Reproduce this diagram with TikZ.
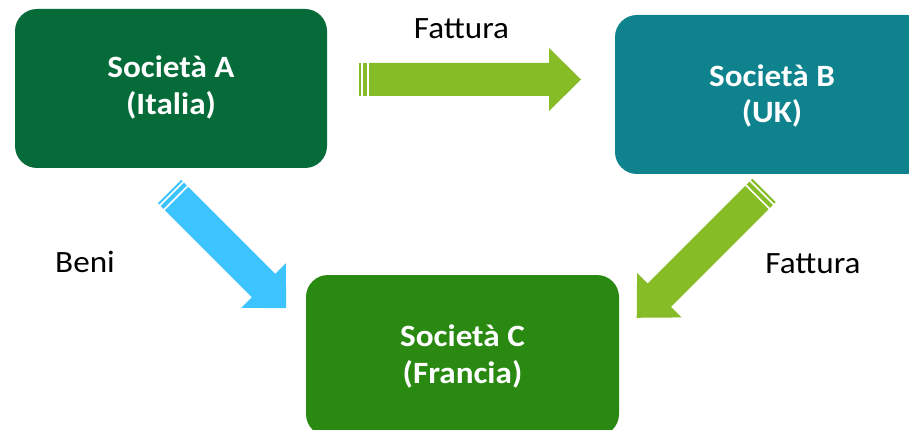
\documentclass[tikz,border=0pt]{standalone}
\usepackage{fontspec}
\setmainfont{Carlito}[FakeStretch=1.07]
\definecolor{boxA}{RGB}{5,107,57}
\definecolor{boxB}{RGB}{14,130,141}
\definecolor{boxC}{RGB}{41,137,17}
\definecolor{arrG}{RGB}{134,188,37}
\definecolor{arrB}{RGB}{61,196,255}
\tikzset{
  company/.style={rounded corners=22pt, inner sep=0pt, outer sep=0pt},
  ctext/.style={anchor=base, text=white, font=\fontsize{31}{37}\selectfont\bfseries, inner sep=0pt},
  ltext/.style={anchor=base, text=black, font=\fontsize{31}{37}\selectfont, inner sep=0pt},
}
% striped block arrow: #1 = length, tail centre at local origin, pointing along +x
\newcommand{\stripedarrow}[1]{%
  \fill (0,-16.5) rectangle (2,16.5);
  \fill (4,-16.5) rectangle (8,16.5);
  \fill (10,-16.5) -- ({#1-32},-16.5) -- ({#1-32},-31.5) -- (#1,0) --
        ({#1-32},31.5) -- ({#1-32},16.5) -- (10,16.5) -- cycle;}
\begin{document}
\begin{tikzpicture}[x=1pt,y=-1pt]
\useasboundingbox (0,0) rectangle (909,430);
\clip (0,0) rectangle (909,430);
% boxes
\fill[boxA, company] (15,9) rectangle (327,168);
\fill[boxB, company] (615,15) rectangle (929,174);
\fill[boxC, company] (306,275) rectangle (619,436);
\coordinate (A) at (171,88.5);
\coordinate (B) at (772,94.5);
\coordinate (C) at (462.5,355);
\node[ctext] (A1) at (171,78) {Società A};
\node[ctext] (A2) at (171,115) {(Italia)};
\node[ctext] (B1) at (772,87) {Società B};
\node[ctext] (B2) at (772,123) {(UK)};
\node[ctext] (C1) at (462.5,346) {Società C};
\node[ctext] (C2) at (462.5,383) {(Francia)};
% arrows
\begin{scope}[arrG, shift={(359,79.5)}]
  \stripedarrow{222}
\end{scope}
\begin{scope}[arrB, shift={(169.5,191.5)}, rotate=-45]
  \stripedarrow{165}
\end{scope}
\begin{scope}[arrG, shift={(764,190.5)}, rotate=-135]
  \stripedarrow{180}
\end{scope}
% labels
\node[ltext] (f1) at (461.5,39) {Fattura};
\node[ltext] (beni) at (85,272) {Beni};
\node[ltext] (f2) at (813,273) {Fattura};
\end{tikzpicture}
\end{document}
